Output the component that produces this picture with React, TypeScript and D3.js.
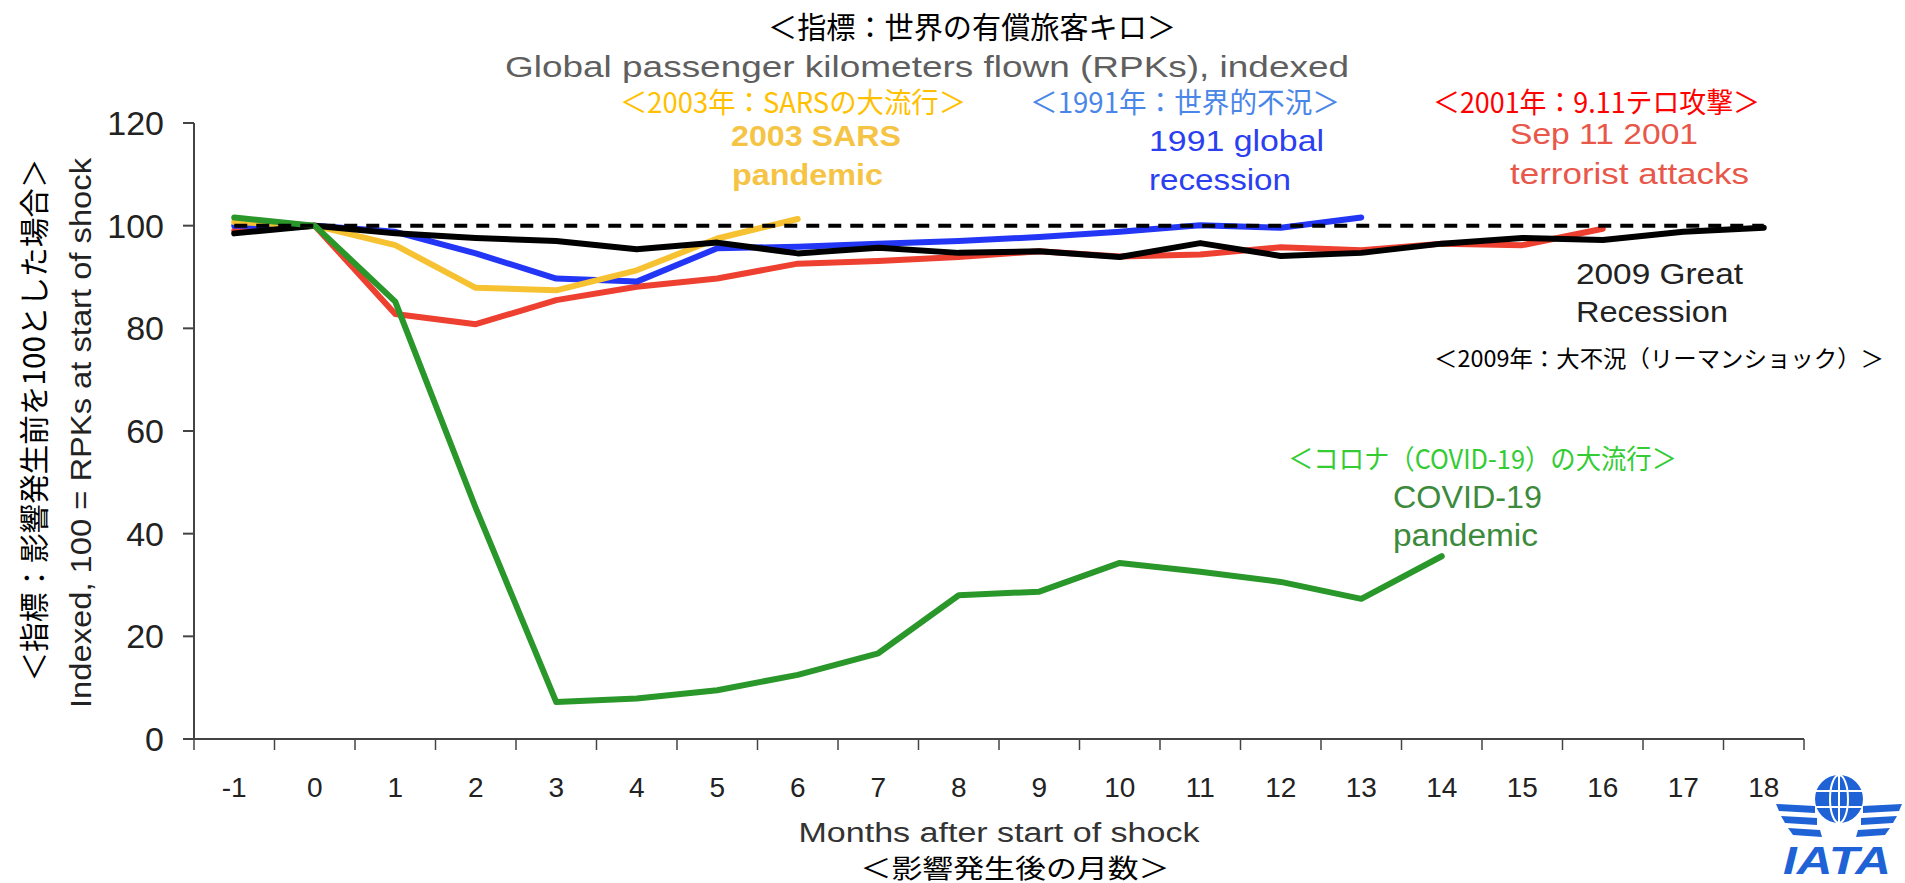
import React from 'react';
import * as d3 from 'd3';

// 影響発生後の月数
const months = [-1, 0, 1, 2, 3, 4, 5, 6, 7, 8, 9, 10, 11, 12, 13, 14, 15, 16, 17, 18];
const yTicks = [0, 20, 40, 60, 80, 100, 120];
const baselineValue = 100;

// 各ショックのRPK指数 (月 -1 から)
const sept11 = [99, 100, 82.8, 80.8, 85.5, 88.1, 89.7, 92.6, 93.1, 93.9, 95.0, 94.0, 94.4, 95.8, 95.2, 96.5, 96.2, 99.4];
const recession1991 = [100, 100, 98.8, 94.6, 89.7, 89.1, 95.6, 95.9, 96.5, 97.0, 97.8, 98.8, 100.1, 99.6, 101.6];
const sars2003 = [100.7, 100, 96.2, 87.9, 87.4, 91.3, 97.5, 101.3];
const gfc2009 = [98.5, 100, 98.5, 97.6, 97.0, 95.4, 96.7, 94.6, 95.7, 94.7, 95.0, 93.9, 96.6, 94.1, 94.7, 96.5, 97.6, 97.2, 98.8, 99.6];
const covid19 = [101.6, 100, 85.2, 45, 7.2, 7.9, 9.5, 12.5, 16.7, 28.0, 28.7, 34.3, 32.6, 30.6, 27.3, 35.6];

const series = [
  { key: 'sept11', values: sept11, color: '#EE4030' },
  { key: 'recession1991', values: recession1991, color: '#2336F5' },
  { key: 'sars2003', values: sars2003, color: '#F7C232' },
  { key: 'gfc2009', values: gfc2009, color: '#000000' },
  { key: 'covid19', values: covid19, color: '#2A972A' },
];

const EN = '"Liberation Sans", Arial, sans-serif';
const JP = '"Noto Sans CJK JP", sans-serif';

// 注釈テキスト (x, y, 幅)
const labels = [
  { t: '2003 SARS', x: 731, y: 136, w: 170, c: '#F5C445', bold: true, f: EN, s: 29 },
  { t: 'pandemic', x: 732, y: 175, w: 151, c: '#F5C445', bold: true, f: EN, s: 29 },
  { t: '1991 global', x: 1149, y: 141, w: 175, c: '#2B3FF0', f: EN, s: 29 },
  { t: 'recession', x: 1149, y: 180, w: 142, c: '#2B3FF0', f: EN, s: 29 },
  { t: 'Sep 11 2001', x: 1510, y: 134, w: 188, c: '#E8574A', f: EN, s: 29 },
  { t: 'terrorist attacks', x: 1510, y: 174, w: 239, c: '#E8574A', f: EN, s: 29 },
  { t: '2009 Great', x: 1576, y: 273, w: 167, c: '#222222', f: EN, s: 30 },
  { t: 'Recession', x: 1576, y: 311, w: 152, c: '#222222', f: EN, s: 30 },
  { t: 'COVID-19', x: 1393, y: 497, w: 149, c: '#3C8A3C', f: EN, s: 31 },
  { t: 'pandemic', x: 1393, y: 535, w: 145, c: '#3C8A3C', f: EN, s: 31 },
  { t: '＜2003年：SARSの大流行＞', x: 620, y: 101, w: 346, c: '#FFC000', f: JP, s: 28 },
  { t: '＜1991年：世界的不況＞', x: 1030, y: 101, w: 310, c: '#4A86E8', f: JP, s: 28 },
  { t: '＜2001年：9.11テロ攻撃＞', x: 1433, y: 101, w: 327, c: '#FF0000', f: JP, s: 28 },
  { t: '＜2009年：大不況（リーマンショック）＞', x: 1434, y: 357, w: 450, c: '#000000', f: JP, s: 23 },
  { t: '＜コロナ（COVID-19）の大流行＞', x: 1288, y: 457, w: 389, c: '#33CC33', f: JP, s: 27 },
];

export default function App() {
  const left = 194, right = 1804, top = 123, bottom = 739;
  const x = d3.scalePoint<number>().domain(months).range([left, right]).padding(0.5);
  const y = d3.scaleLinear().domain([0, 120]).range([bottom, top]);
  const step = x.step();

  const line = d3.line<number>()
    .x((_, i) => x(months[i]) as number)
    .y(d => y(d));

  const xTicks = months.map(m => (x(m) as number) - step / 2).concat([(x(months[months.length - 1]) as number) + step / 2]);

  return (
    <svg width={1905} height={883} style={{ position: 'absolute', left: 0, top: 0, display: 'block', background: '#fff' }}>
      {/* タイトル */}
      <text x={972} y={25} textAnchor="middle" dominantBaseline="central" fontFamily={JP} fontSize={30}
        textLength={408} lengthAdjust="spacingAndGlyphs" fill="#000">＜指標：世界の有償旅客キロ＞</text>
      <text x={927} y={66} textAnchor="middle" dominantBaseline="central" fontFamily={EN} fontSize={30}
        textLength={844} lengthAdjust="spacingAndGlyphs" fill="#5f5f5f">Global passenger kilometers flown (RPKs), indexed</text>

      {/* y軸 */}
      <line x1={left} x2={left} y1={top} y2={bottom} stroke="#444" strokeWidth={2} />
      {yTicks.map(t => (
        <g key={t}>
          <line x1={left - 11} x2={left} y1={y(t)} y2={y(t)} stroke="#444" strokeWidth={2} />
          <text x={164} y={y(t)} textAnchor="end" dominantBaseline="central" fontFamily={EN} fontSize={34} fill="#222">{t}</text>
        </g>
      ))}
      <text transform={`translate(32,420) rotate(-90)`} textAnchor="middle" dominantBaseline="central" fontFamily={JP}
        fontSize={30} textLength={523} lengthAdjust="spacingAndGlyphs" fill="#000">＜指標：影響発生前を100とした場合＞</text>
      <text transform={`translate(80,433) rotate(-90)`} textAnchor="middle" dominantBaseline="central" fontFamily={EN}
        fontSize={30} textLength={550} lengthAdjust="spacingAndGlyphs" fill="#222">Indexed, 100 = RPKs at start of shock</text>

      {/* x軸 */}
      <line x1={left} x2={right} y1={bottom} y2={bottom} stroke="#444" strokeWidth={2} />
      {xTicks.map((t, i) => (
        <line key={i} x1={t} x2={t} y1={bottom} y2={bottom + 11} stroke="#444" strokeWidth={1.5} />
      ))}
      {months.map(m => (
        <text key={m} x={x(m)} y={787} textAnchor="middle" dominantBaseline="central" fontFamily={EN} fontSize={28} fill="#222">{m}</text>
      ))}
      <text x={999} y={833} textAnchor="middle" dominantBaseline="central" fontFamily={EN} fontSize={27}
        textLength={401} lengthAdjust="spacingAndGlyphs" fill="#333">Months after start of shock</text>
      <text x={1015} y={866} textAnchor="middle" dominantBaseline="central" fontFamily={JP} fontSize={26}
        textLength={309} lengthAdjust="spacingAndGlyphs" fill="#000">＜影響発生後の月数＞</text>

      {/* 系列 */}
      {series.map(s => (
        <path key={s.key} d={line(s.values) ?? ''} fill="none" stroke={s.color} strokeWidth={6}
          strokeLinejoin="round" strokeLinecap="round" />
      ))}
      <line x1={x(months[0])} x2={x(months[months.length - 1])} y1={y(baselineValue)} y2={y(baselineValue)}
        stroke="#000" strokeWidth={4} strokeDasharray="13 9" />

      {/* 注釈 */}
      {labels.map((l, i) => (
        <text key={i} x={l.x} y={l.y} dominantBaseline="central" fontFamily={l.f} fontSize={l.s}
          fontWeight={l.bold ? 'bold' : 'normal'} textLength={l.w} lengthAdjust="spacingAndGlyphs" fill={l.c}>{l.t}</text>
      ))}

      {/* IATA ロゴ */}
      <g fill="#1E62D6">
        <circle cx={1839} cy={799} r={24} />
        <g fill="none" stroke="#fff" strokeWidth={2}>
          <ellipse cx={1839} cy={799} rx={9} ry={24} />
          <line x1={1839} x2={1839} y1={775} y2={823} />
          <line x1={1816} x2={1862} y1={791} y2={791} />
          <line x1={1816} x2={1862} y1={807} y2={807} />
        </g>
        <path d="M1776,804 L1815,806 L1815,813 L1779,811 Z" />
        <path d="M1781,816 L1817,818 L1817,825 L1785,823 Z" />
        <path d="M1788,828 L1820,830 L1822,837 L1793,835 Z" />
        <path d="M1902,804 L1863,806 L1863,813 L1899,811 Z" />
        <path d="M1897,816 L1861,818 L1861,825 L1893,823 Z" />
        <path d="M1890,828 L1858,830 L1856,837 L1885,835 Z" />
        <text x={1837} y={861} textAnchor="middle" dominantBaseline="central" fontFamily={EN} fontSize={38}
          fontWeight="bold" fontStyle="italic" textLength={108} lengthAdjust="spacingAndGlyphs">IATA</text>
      </g>
    </svg>
  );
}
